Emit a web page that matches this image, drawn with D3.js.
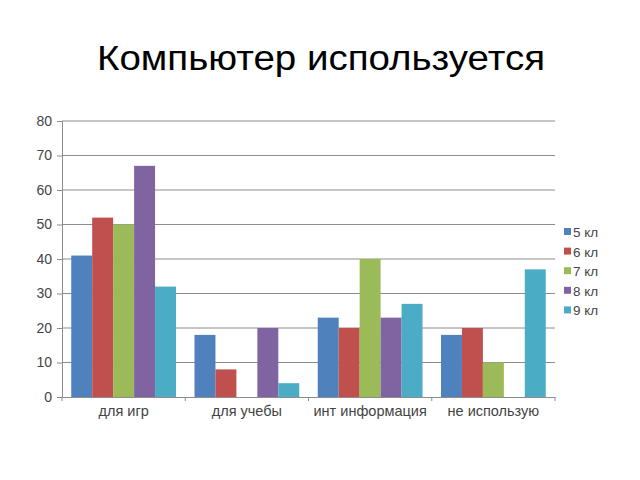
<!DOCTYPE html>
<html><head><meta charset="utf-8">
<script src="https://cdn.jsdelivr.net/npm/d3@7"></script>
<style>body{margin:0;background:#fff}</style>
</head><body>
<svg id="c" width="640" height="480"></svg>
<script>
const categories = ["для игр", "для учебы", "инт информация", "не использую"];
const seriesNames = ["5 кл", "6 кл", "7 кл", "8 кл", "9 кл"];
const kl5 = [41, 18, 23, 18];
const kl6 = [52, 8, 20, 20];
const kl7 = [50, 0, 40, 10];
const kl8 = [67, 20, 23, 0];
const kl9 = [32, 4, 27, 37];
const yTicks = [0, 10, 20, 30, 40, 50, 60, 70, 80];
const colors = ["#4F81BD", "#C0504D", "#9BBB59", "#8064A2", "#4BACC6"];
const series = [kl5, kl6, kl7, kl8, kl9];

(function(){
const svg = d3.select("#c");
const font = "'Liberation Sans', Arial, sans-serif";
const pL = 62, pR = 555, pT = 121, pB = 397;

svg.append("text").attr("x", 321).attr("y", 70).attr("text-anchor", "middle")
  .attr("font-family", font).attr("font-size", 35).attr("fill", "#000")
  .attr("textLength", 448).attr("lengthAdjust", "spacingAndGlyphs")
  .text("Компьютер используется");

const x0 = d3.scaleBand().domain(categories).range([pL, pR]).paddingInner(0.15).paddingOuter(0.075);
const x1 = d3.scaleBand().domain(seriesNames).range([0, x0.bandwidth()]);
const y = d3.scaleLinear().domain([0, 80]).range([pB, pT]);

svg.append("g").selectAll("line").data(yTicks.filter(d => d > 0)).join("line")
  .attr("x1", pL).attr("x2", pR).attr("y1", d => y(d)).attr("y2", d => y(d))
  .attr("stroke", "#8c8c8c").attr("stroke-width", 1);

const ya = svg.append("g").attr("transform", `translate(${pL},0)`)
  .call(d3.axisLeft(y).tickValues(yTicks).tickSize(5).tickPadding(5));
ya.selectAll("text").attr("font-family", font).attr("font-size", 14).attr("fill", "#444");
ya.selectAll("line,path").attr("stroke", "#8c8c8c");

const g = svg.append("g");
categories.forEach((c, ci) => {
  series.forEach((s, si) => {
    if (s[ci] > 0) {
      g.append("rect")
        .attr("x", x0(c) + x1(seriesNames[si]))
        .attr("y", y(s[ci]))
        .attr("width", x1.bandwidth())
        .attr("height", y(0) - y(s[ci]))
        .attr("fill", colors[si]);
    }
  });
});

const xa = svg.append("g").attr("transform", `translate(0,${pB})`)
  .call(d3.axisBottom(x0).tickSize(0).tickPadding(9));
xa.select(".domain").attr("stroke", "#8c8c8c");
xa.selectAll("text").attr("font-family", font).attr("font-size", 14.5).attr("fill", "#444");
const bounds = [pL].concat(categories.map(c => x0(c) + x0.bandwidth() + x0.step() * x0.paddingInner() / 2).slice(0, 3)).concat([pR]);
svg.append("g").selectAll("line").data(bounds).join("line")
  .attr("x1", d => d).attr("x2", d => d).attr("y1", pB).attr("y2", pB + 4)
  .attr("stroke", "#8c8c8c");

const lg = svg.append("g");
seriesNames.forEach((n, i) => {
  const yy = 232 + i * 19.6;
  lg.append("rect").attr("x", 564).attr("y", yy - 4).attr("width", 7).attr("height", 7).attr("fill", colors[i]);
  lg.append("text").attr("x", 573).attr("y", yy + 5).attr("font-family", font).attr("font-size", 13.5)
    .attr("fill", "#444").text(n);
});
})();
</script>
</body></html>
